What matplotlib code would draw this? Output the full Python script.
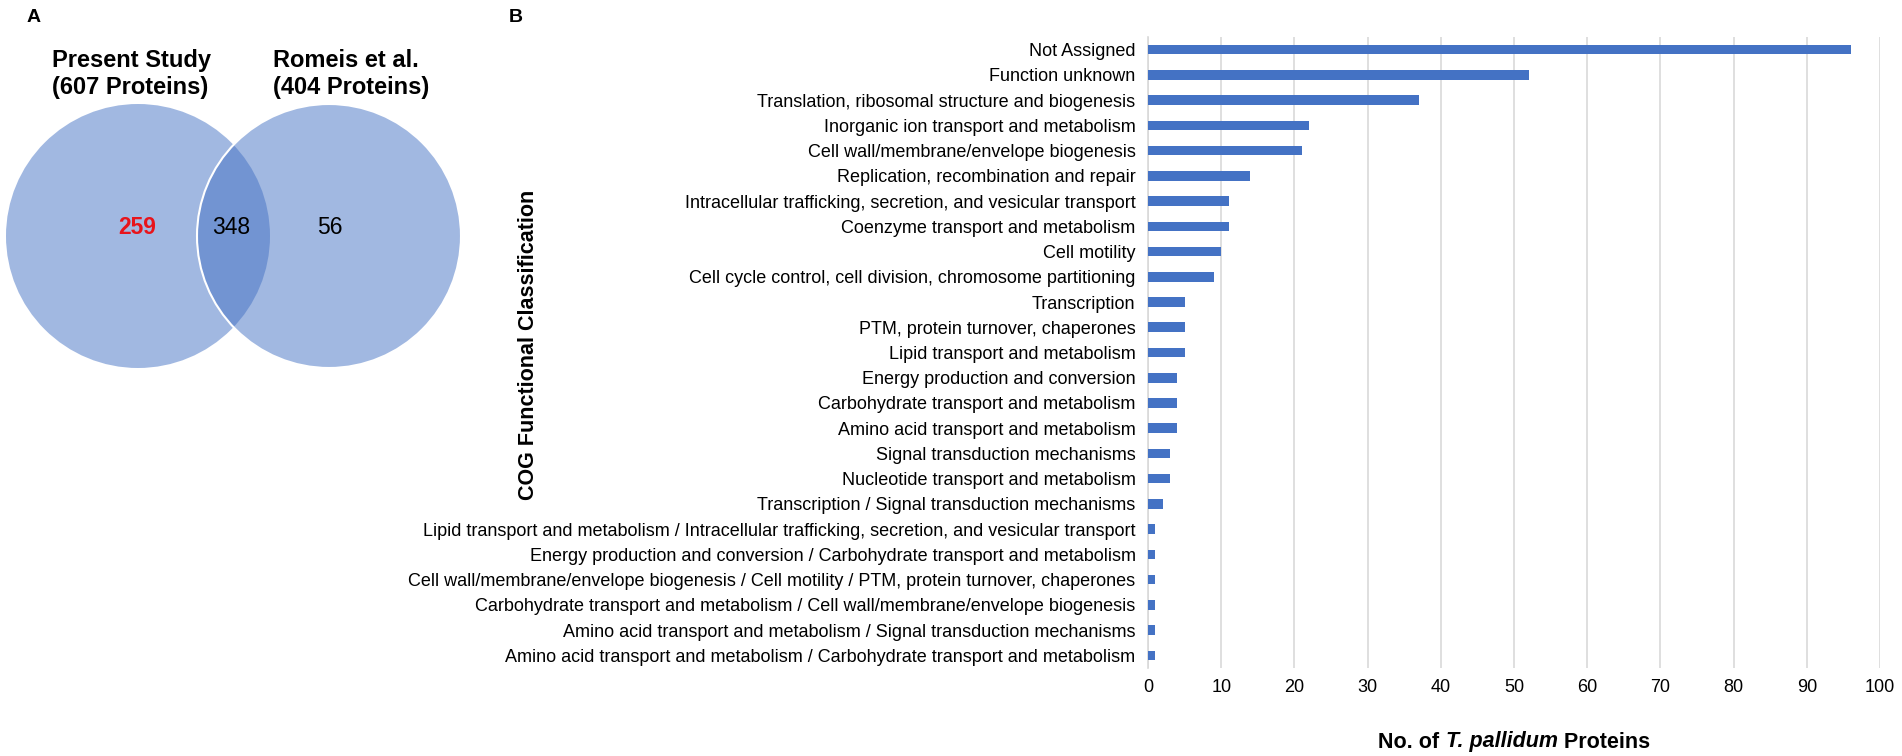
import matplotlib.pyplot as plt
from matplotlib.patches import Circle
import numpy as np

plt.rcParams['font.family'] = ['Liberation Sans', 'DejaVu Sans']

# Venn counts
only_present = 259
shared = 348
only_romeis = 56

# COG classes, top to bottom
categories = [
    'Not Assigned',
    'Function unknown',
    'Translation, ribosomal structure and biogenesis',
    'Inorganic ion transport and metabolism',
    'Cell wall/membrane/envelope biogenesis',
    'Replication, recombination and repair',
    'Intracellular trafficking, secretion, and vesicular transport',
    'Coenzyme transport and metabolism',
    'Cell motility',
    'Cell cycle control, cell division, chromosome partitioning',
    'Transcription',
    'PTM, protein turnover, chaperones',
    'Lipid transport and metabolism',
    'Energy production and conversion',
    'Carbohydrate transport and metabolism',
    'Amino acid transport and metabolism',
    'Signal transduction mechanisms',
    'Nucleotide transport and metabolism',
    'Transcription / Signal transduction mechanisms',
    'Lipid transport and metabolism / Intracellular trafficking, secretion, and vesicular transport',
    'Energy production and conversion / Carbohydrate transport and metabolism',
    'Cell wall/membrane/envelope biogenesis / Cell motility / PTM, protein turnover, chaperones',
    'Carbohydrate transport and metabolism / Cell wall/membrane/envelope biogenesis',
    'Amino acid transport and metabolism / Signal transduction mechanisms',
    'Amino acid transport and metabolism / Carbohydrate transport and metabolism',
]
counts = [96, 52, 37, 22, 21, 14, 11, 11, 10, 9, 5, 5, 5, 4, 4, 4, 3, 3, 2,
          1, 1, 1, 1, 1, 1]
xticks = list(range(0, 101, 10))

W, H = 1902, 756
fig = plt.figure(figsize=(W / 100, H / 100), dpi=100)

# ---- Panel A: Venn diagram (axes in pixel units) ----
axv = fig.add_axes([0, 0, 480 / W, 1])
axv.set_xlim(0, 480)
axv.set_ylim(H, 0)
axv.axis('off')

blue = '#4472C4'
r = 132
c1 = (138, 236)
c2 = (329, 236)
axv.add_patch(Circle(c1, r, facecolor=blue, alpha=0.5, edgecolor='none'))
axv.add_patch(Circle(c2, r, facecolor=blue, alpha=0.5, edgecolor='none'))
axv.add_patch(Circle(c2, r, fill=False, edgecolor='white', lw=1.5))

axv.text(137, 228, str(only_present), color='#E8141B', fontsize=16.5,
         fontweight='bold', ha='center', va='center')
axv.text(231, 228, str(shared), fontsize=16.5, ha='center', va='center')
axv.text(330, 228, str(only_romeis), fontsize=16.5, ha='center', va='center')

axv.text(52, 74, 'Present Study\n(%d Proteins)' % (only_present + shared),
         fontsize=17, fontweight='bold', ha='left', va='center',
         linespacing=1.2)
axv.text(273, 74, 'Romeis et al.\n(%d Proteins)' % (shared + only_romeis),
         fontsize=17, fontweight='bold', ha='left', va='center',
         linespacing=1.2)

fig.text(27 / W, 1 - 17 / H, 'A', fontsize=14, fontweight='bold',
         ha='left', va='center')
fig.text(509 / W, 1 - 17 / H, 'B', fontsize=14, fontweight='bold',
         ha='left', va='center')

# ---- Panel B: COG bar chart ----
ax = fig.add_axes([1148 / W, 1 - 668 / H, 732 / W, 631 / H])
y = np.arange(len(categories))
ax.barh(y, counts, height=0.38, color=blue, zorder=3)
ax.set_yticks(y)
ax.set_yticklabels(categories, fontsize=13)
ax.set_ylim(len(categories) - 0.5, -0.5)
ax.set_xlim(0, 100)
ax.set_xticks(xticks)
ax.tick_params(axis='x', labelsize=13, length=0, pad=8)
ax.tick_params(axis='y', length=0, pad=9)
ax.grid(axis='x', color='#D9D9D9', lw=1.2, zorder=0)
for s in ['top', 'right', 'bottom']:
    ax.spines[s].set_visible(False)
ax.spines['left'].set_color('#D9D9D9')
ax.spines['left'].set_linewidth(1.2)

# x label with italic species name, pieced together
t1 = fig.text(0.5, 1 - 742 / H, 'No. of ', fontsize=15.5, fontweight='bold',
              ha='left', va='center')
t2 = ax.annotate('T. pallidum', xy=(1, 0), xycoords=t1, fontsize=15.5,
                 fontweight='bold', fontstyle='italic', ha='left', va='bottom')
t3 = ax.annotate(' Proteins', xy=(1, 0), xycoords=t2, fontsize=15.5,
                 fontweight='bold', ha='left', va='bottom')
fig.canvas.draw()
total = sum(t.get_window_extent().width for t in (t1, t2, t3))
t1.set_x((1148 + 732 / 2 - total / 2) / W)

fig.text(529 / W, 1 - 345 / H, 'COG Functional Classification', fontsize=15.5,
         fontweight='bold', rotation=90, ha='center', va='center')

fig.savefig('out.png', dpi=100, facecolor='white')
